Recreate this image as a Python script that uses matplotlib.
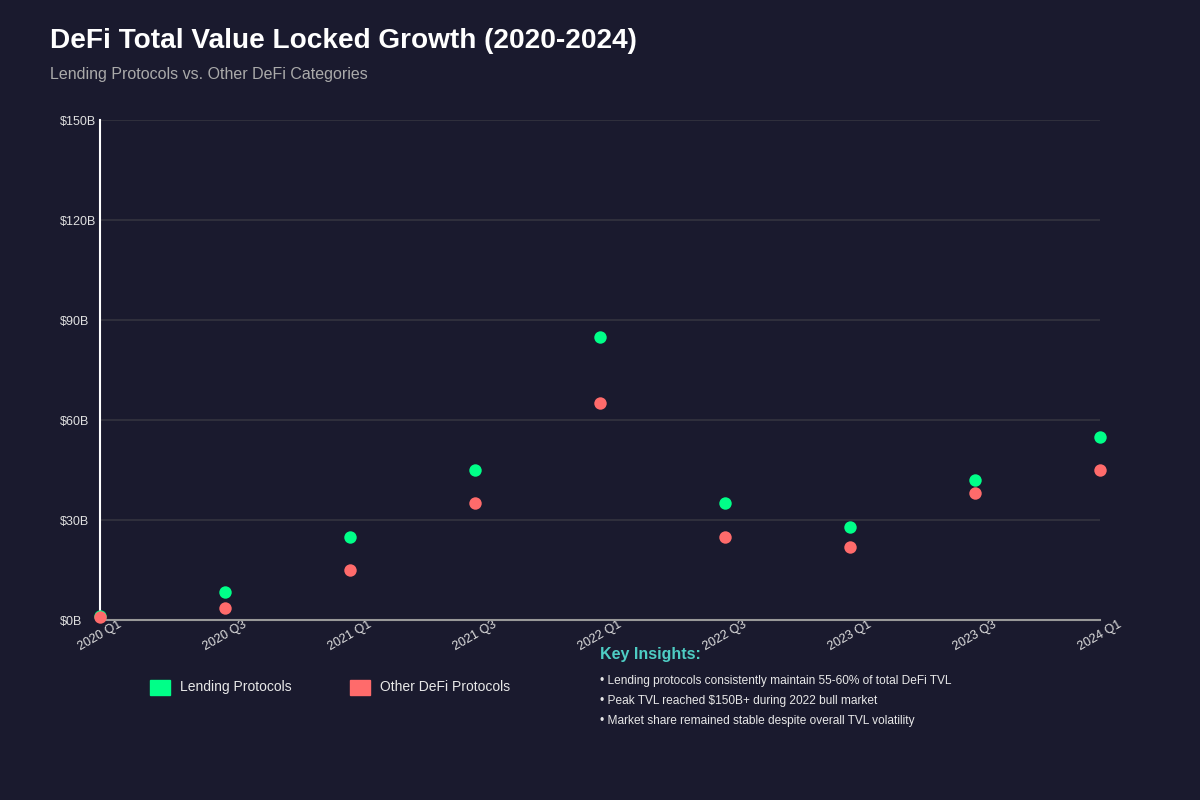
import matplotlib.pyplot as plt
from matplotlib.patches import Rectangle

plt.rcParams["font.family"] = ["Liberation Sans", "DejaVu Sans"]

BG = "#1a1a2e"
GREEN = "#00ff88"
RED = "#ff6b6b"

quarters = ["2020 Q1", "2020 Q3", "2021 Q1", "2021 Q3", "2022 Q1",
            "2022 Q3", "2023 Q1", "2023 Q3", "2024 Q1"]
lending = [1.3, 8.5, 25, 45, 85, 35, 28, 42, 55]
other = [0.8, 3.5, 15, 35, 65, 25, 22, 38, 45]
y_ticks = [0, 30, 60, 90, 120, 150]
y_labels = ["$0B", "$30B", "$60B", "$90B", "$120B", "$150B"]
insights = [
    "\u2022 Lending protocols consistently maintain 55-60% of total DeFi TVL",
    "\u2022 Peak TVL reached $150B+ during 2022 bull market",
    "\u2022 Market share remained stable despite overall TVL volatility",
]

fig = plt.figure(figsize=(12, 8), dpi=100, facecolor=BG)
# axes from x=100..1100 px, y=120..620 px
ax = fig.add_axes([100 / 1200, 180 / 800, 1000 / 1200, 500 / 800])
ax.set_facecolor(BG)

x = list(range(len(quarters)))
ax.scatter(x, lending, s=80, color=GREEN, zorder=3, clip_on=False, linewidths=0)
ax.scatter(x, other, s=80, color=RED, zorder=4, clip_on=False, linewidths=0)

ax.set_xlim(0, len(quarters) - 1)
ax.set_ylim(0, 150)
ax.set_yticks(y_ticks)
ax.set_yticklabels(y_labels)
ax.set_xticks(x)
ax.set_xticklabels(quarters)

ax.grid(axis="y", color="#34343f", linewidth=1.2)
ax.set_axisbelow(True)
for side in ["top", "right"]:
    ax.spines[side].set_visible(False)
ax.spines["left"].set_color("white")
ax.spines["left"].set_linewidth(1.5)
ax.spines["bottom"].set_color("#999999")
ax.spines["bottom"].set_linewidth(1.5)

ax.tick_params(axis="y", length=0, pad=28.8, labelsize=9, labelcolor="#e0e0e0")
for lab in ax.get_yticklabels():
    lab.set_horizontalalignment("left")
ax.tick_params(axis="x", length=0, pad=-1, labelsize=9, labelcolor="#e0e0e0")
for lab in ax.get_xticklabels():
    lab.set_rotation(30)
    lab.set_horizontalalignment("center")
    lab.set_verticalalignment("top")

fig.text(50 / 1200, 1 - 41 / 800, "DeFi Total Value Locked Growth (2020-2024)",
         color="white", fontsize=20.2, fontweight="bold", va="center", ha="left")
fig.text(50 / 1200, 1 - 75 / 800, "Lending Protocols vs. Other DeFi Categories",
         color="#aaaaaa", fontsize=11.5, va="center", ha="left")

# legend
for px, col, name in [(150, GREEN, "Lending Protocols"), (350, RED, "Other DeFi Protocols")]:
    fig.patches.append(Rectangle((px / 1200, 1 - 695 / 800), 20 / 1200, 15 / 800,
                                 transform=fig.transFigure, color=col))
    fig.text((px + 30) / 1200, 1 - 687 / 800, name, color="#e8e8e8",
             fontsize=10, va="center", ha="left")

fig.text(600 / 1200, 1 - 655 / 800, "Key Insights:", color="#4ecdc4",
         fontsize=11.5, fontweight="bold", va="center", ha="left")
for i, line in enumerate(insights):
    fig.text(600 / 1200, 1 - (681 + 20 * i) / 800, line, color="#e8e8e8",
             fontsize=8.6, va="center", ha="left")

fig.savefig("out.png", dpi=100, facecolor=BG)
